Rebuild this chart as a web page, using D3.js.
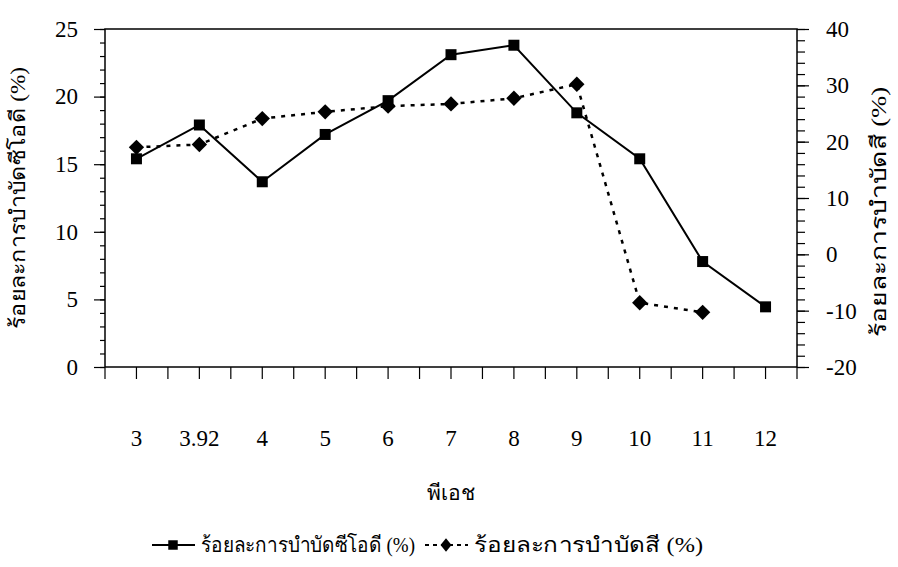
<!DOCTYPE html>
<html><head><meta charset="utf-8">
<script src="https://cdn.jsdelivr.net/npm/d3@7"></script>
<style>
body{margin:0;background:#fff;}
text{font-family:"Liberation Serif","Times New Roman",serif;fill:#000;}
</style></head>
<body><svg id="c" width="898" height="567"></svg>
<script>
const categories = ["3","3.92","4","5","6","7","8","9","10","11","12"];
const codRemoval = [15.4, 17.9, 13.7, 17.2, 19.7, 23.1, 23.8, 18.8, 15.4, 7.8, 4.45];
const colorRemoval = [19.0, 19.5, 24.1, 25.3, 26.3, 26.7, 27.7, 30.2, -8.6, -10.3, null];
const leftTicks = [0,5,10,15,20,25];
const rightTicks = [-20,-10,0,10,20,30,40];
const xTitle = "พีเอช";
const leftTitle = "ร้อยละการบำบัดซีโอดี (%)";
const rightTitle = "ร้อยละการบำบัดสี (%)";

const svg = d3.select("#c");
const L=105, R=797, T=29, B=367;
const x = d3.scaleBand().domain(categories).range([L,R]).padding(0);
const yL = d3.scaleLinear().domain([0,25]).range([B,T]);
const yR = d3.scaleLinear().domain([-20,40]).range([B,T]);
const NUM = 23;

// frame
svg.append("rect").attr("x",L).attr("y",T).attr("width",R-L).attr("height",B-T)
  .attr("fill","none").attr("stroke","#000").attr("stroke-width",1.5);

// left axis
const gl = svg.append("g").attr("transform",`translate(${L},0)`);
gl.call(d3.axisLeft(yL).tickValues(d3.range(0,26,1)).tickSize(5).tickFormat(""))
  .call(g=>g.select(".domain").remove()).selectAll("line").attr("stroke-width",1.2);
gl.append("g").call(d3.axisLeft(yL).tickValues(leftTicks).tickSize(11).tickPadding(16).tickFormat(d=>String(d)))
  .call(g=>g.select(".domain").remove())
  .call(g=>g.selectAll("line").attr("stroke-width",1.2))
  .call(g=>g.selectAll("text").attr("font-size",NUM).attr("fill","#000"));

// right axis
const gr = svg.append("g").attr("transform",`translate(${R},0)`);
gr.call(d3.axisRight(yR).tickValues(d3.range(-20,41,2)).tickSize(8).tickFormat(""))
  .call(g=>g.select(".domain").remove()).selectAll("line").attr("stroke-width",1.2);
gr.append("g").call(d3.axisRight(yR).tickValues(rightTicks).tickSize(12).tickPadding(17).tickFormat(d=>String(d)))
  .call(g=>g.select(".domain").remove())
  .call(g=>g.selectAll("line").attr("stroke-width",1.2))
  .call(g=>g.selectAll("text").attr("font-size",NUM).attr("fill","#000"));

// bottom axis: ticks at band edges and centers
const bw = x.bandwidth();
const tickPos = [];
categories.forEach(c=>{tickPos.push(x(c)); tickPos.push(x(c)+bw/2);});
tickPos.push(R);
svg.append("g").selectAll("line").data(tickPos).join("line")
  .attr("x1",d=>d).attr("x2",d=>d).attr("y1",B).attr("y2",B+12)
  .attr("stroke","#000").attr("stroke-width",1.2);
svg.append("g").selectAll("text").data(categories).join("text")
  .attr("x",d=>x(d)+bw/2).attr("y",446).attr("text-anchor","middle")
  .attr("font-size",NUM).text(d=>d);

// titles
svg.append("text").attr("x",451).attr("y",500).attr("text-anchor","middle")
  .attr("font-size",21).attr("textLength",48).attr("lengthAdjust","spacingAndGlyphs").text(xTitle);
svg.append("text").attr("transform","translate(25,198) rotate(-90)").attr("text-anchor","middle")
  .attr("font-size",21).attr("textLength",262).attr("lengthAdjust","spacingAndGlyphs").text(leftTitle);
svg.append("text").attr("transform","translate(886,212) rotate(-90)").attr("text-anchor","middle")
  .attr("font-size",21).attr("textLength",250).attr("lengthAdjust","spacingAndGlyphs").text(rightTitle);

// series
const cx = d=>x(d)+bw/2;
const codData = categories.map((c,i)=>({c,v:codRemoval[i]}));
const colData = categories.map((c,i)=>({c,v:colorRemoval[i]})).filter(d=>d.v!==null);

svg.append("path").datum(codData)
  .attr("d",d3.line().x(d=>cx(d.c)).y(d=>yL(d.v)))
  .attr("fill","none").attr("stroke","#000").attr("stroke-width",2);
svg.append("path").datum(colData)
  .attr("d",d3.line().x(d=>cx(d.c)).y(d=>yR(d.v)))
  .attr("fill","none").attr("stroke","#000").attr("stroke-width",2.5).attr("stroke-dasharray","4,6");

const sq = d3.symbol().type(d3.symbolSquare).size(121);
const dm = d3.symbol().type(d3.symbolDiamond2).size(150);
svg.append("g").selectAll("path").data(colData).join("path")
  .attr("transform",d=>`translate(${cx(d.c)},${yR(d.v)})`).attr("d",dm).attr("fill","#000");
svg.append("g").selectAll("path").data(codData).join("path")
  .attr("transform",d=>`translate(${cx(d.c)},${yL(d.v)})`).attr("d",sq).attr("fill","#000");

// legend
const ly = 545;
const lg = svg.append("g");
lg.append("line").attr("x1",152).attr("x2",195).attr("y1",ly).attr("y2",ly).attr("stroke","#000").attr("stroke-width",2);
lg.append("path").attr("transform",`translate(173,${ly})`).attr("d",d3.symbol().type(d3.symbolSquare).size(90)).attr("fill","#000");
lg.append("text").attr("x",201).attr("y",ly+7).attr("font-size",21)
  .attr("textLength",214).attr("lengthAdjust","spacingAndGlyphs").text(leftTitle);
lg.append("line").attr("x1",425).attr("x2",468).attr("y1",ly).attr("y2",ly).attr("stroke","#000").attr("stroke-width",2).attr("stroke-dasharray","4,4");
lg.append("path").attr("transform",`translate(446,${ly}) scale(0.8,1)`).attr("d",d3.symbol().type(d3.symbolDiamond2).size(120)).attr("fill","#000");
lg.append("text").attr("x",474).attr("y",ly+7).attr("font-size",21)
  .attr("textLength",229).attr("lengthAdjust","spacingAndGlyphs").text(rightTitle);
</script></body></html>
